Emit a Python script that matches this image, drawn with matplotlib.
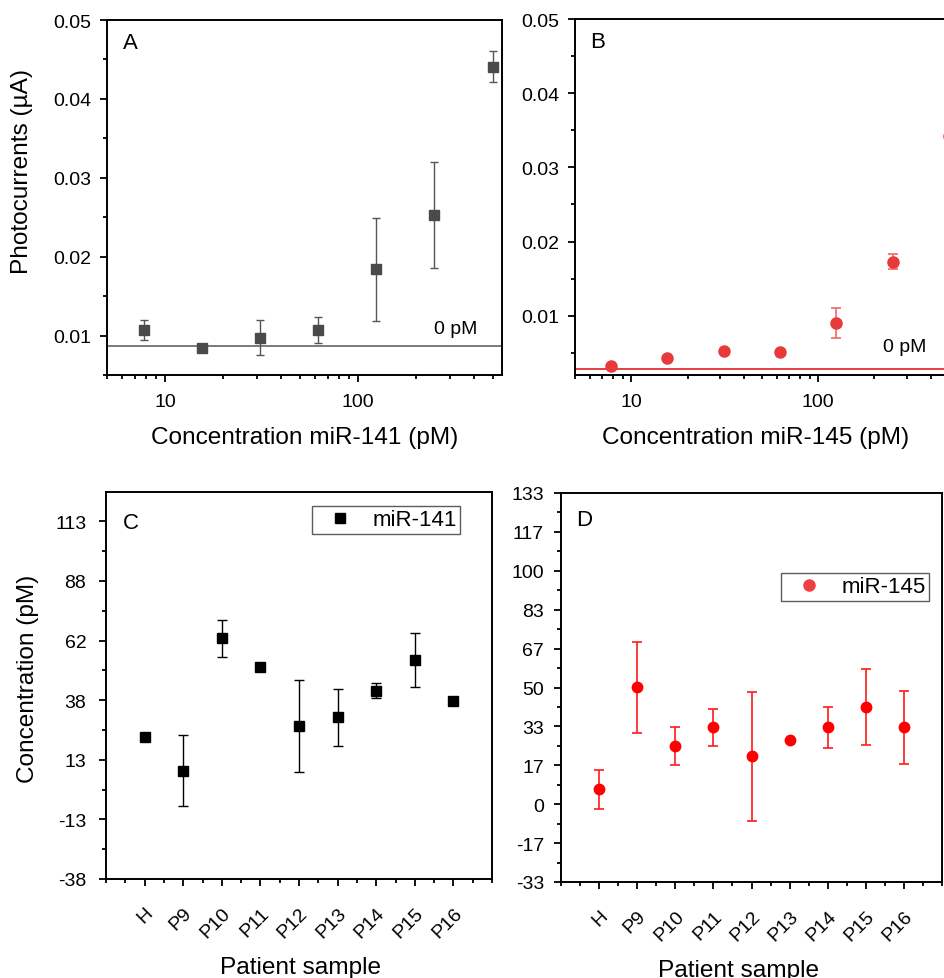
import numpy as np
import matplotlib
matplotlib.use("Agg")
import matplotlib.pyplot as plt
from matplotlib.ticker import FixedLocator, FixedFormatter, MultipleLocator, NullFormatter, LogLocator

plt.rcParams['font.family'] = ['Liberation Sans', 'DejaVu Sans']

# ---- calibration curves (A: miR-141, B: miR-145) ----
conc = [7.8125, 15.625, 31.25, 62.5, 125, 250, 500]
cur_141 = [0.0107, 0.00848, 0.00975, 0.0107, 0.0184, 0.0253, 0.0441]
err_141 = [0.0013, 0.0002, 0.00225, 0.0016, 0.0065, 0.0067, 0.002]
blank_141 = 0.00873

cur_145 = [0.00315, 0.0043, 0.0052, 0.0051, 0.0090, 0.0173, 0.0342]
err_145 = [0.0002, 0.0002, 0.0002, 0.0002, 0.0020, 0.0010, 0.0075]
blank_145 = 0.00284

# ---- patient samples (C: miR-141, D: miR-145) ----
samples = ["H", "P9", "P10", "P11", "P12", "P13", "P14", "P15", "P16"]
pat_141 = [22.3, 8.0, 63.8, 51.6, 26.8, 30.5, 41.8, 54.7, 37.3]
pat_141_err = [0, 14.9, 7.9, 0, 19.35, 12.0, 3.0, 11.3, 0]
pat_145 = [6.3, 50.1, 24.8, 32.9, 20.5, 27.5, 32.9, 41.7, 32.9]
pat_145_err = [8.5, 19.5, 8.2, 7.8, 27.6, 0, 8.7, 16.4, 15.6]

c_ticks = list(np.linspace(-37.75, 113.25, 7))
c_ticklabels = ["-38", "-13", "13", "38", "62", "88", "113"]
d_ticks = list(np.linspace(-100 / 3, 400 / 3, 11))
d_ticklabels = ["-33", "-17", "0", "17", "33", "50", "67", "83", "100", "117", "133"]

W, H = 944, 979
fig = plt.figure(figsize=(W / 100, H / 100), dpi=100)


def px_axes(left, top, right, bottom):
    return fig.add_axes([left / W, (H - bottom) / H, (right - left) / W, (bottom - top) / H])


TICK_FS = 14
LABEL_FS = 17.6
LEG_FS = 16


def style(ax, ypad=6, xpad=8):
    for s in ax.spines.values():
        s.set_linewidth(1.4)
    ax.tick_params(which='major', direction='out', length=5.2, width=1.3, labelsize=TICK_FS,
                   top=False, right=False)
    ax.tick_params(which='minor', direction='out', length=3.2, width=1.3, top=False, right=False)
    ax.tick_params(axis='y', which='major', pad=ypad)
    ax.tick_params(axis='x', which='major', pad=xpad)


def legend_box(ax, right_px, top_px, left, top, w, h):
    leg = ax.legend(loc='upper right',
                    bbox_to_anchor=((right_px - left) / w, 1 - (top_px - top) / h),
                    fontsize=LEG_FS, frameon=True, fancybox=False, edgecolor='#333333',
                    handlelength=2.2, handletextpad=0.35, borderpad=0.15, borderaxespad=0)
    leg.get_frame().set_linewidth(1.0)
    return leg


# Panel A
axA = px_axes(107, 21, 502, 376)
axA.set_xscale('log')
axA.set_xlim(5, 560)
axA.set_ylim(0.005, 0.05)
axA.axhline(blank_141, color='#707070', lw=1.3)
axA.errorbar(conc, cur_141, yerr=err_141, fmt='s', color='#4a4a4a', ms=7.5,
             ecolor='#555555', elinewidth=1.0, capsize=2.9, capthick=1.0)
axA.yaxis.set_major_locator(MultipleLocator(0.01))
axA.yaxis.set_minor_locator(MultipleLocator(0.005))
axA.xaxis.set_major_locator(FixedLocator([10, 100]))
axA.xaxis.set_major_formatter(FixedFormatter(["10", "100"]))
axA.xaxis.set_minor_locator(LogLocator(base=10, subs=np.arange(2, 10)))
axA.xaxis.set_minor_formatter(NullFormatter())
axA.yaxis.set_major_formatter(plt.FuncFormatter(lambda v, p: f"{v:.2f}"))
style(axA)
axA.text(0.04, 0.965, "A", transform=axA.transAxes, fontsize=16, va='top', ha='left')
axA.text(0.827, 0.13, "0 pM", transform=axA.transAxes, fontsize=14, va='center', ha='left')
axA.set_xlabel("Concentration miR-141 (pM)", fontsize=LABEL_FS)
axA.xaxis.set_label_coords(0.5, -0.144)
axA.set_ylabel("Photocurrents (\u00b5A)", fontsize=LABEL_FS)
axA.yaxis.set_label_coords(-0.187, 0.575)

# Panel B
axB = px_axes(575, 20, 958, 376)
axB.set_xscale('log')
axB.set_xlim(5, 560)
axB.set_ylim(0.002, 0.05)
axB.axhline(blank_145, color='#e53030', lw=1.3)
axB.errorbar(conc, cur_145, yerr=err_145, fmt='o', color='#e83a3a', ms=8,
             ecolor='#f06a6a', elinewidth=1.2, capsize=3.6, capthick=1.2)
axB.yaxis.set_major_locator(MultipleLocator(0.01))
axB.yaxis.set_minor_locator(MultipleLocator(0.005))
axB.xaxis.set_major_locator(FixedLocator([10, 100]))
axB.xaxis.set_major_formatter(FixedFormatter(["10", "100"]))
axB.xaxis.set_minor_locator(LogLocator(base=10, subs=np.arange(2, 10)))
axB.xaxis.set_minor_formatter(NullFormatter())
axB.yaxis.set_major_formatter(plt.FuncFormatter(lambda v, p: f"{v:.2f}"))
style(axB)
axB.text(0.04, 0.965, "B", transform=axB.transAxes, fontsize=16, va='top', ha='left')
axB.text(0.803, 0.08, "0 pM", transform=axB.transAxes, fontsize=14, va='center', ha='left')
axB.set_xlabel("Concentration miR-145 (pM)", fontsize=LABEL_FS)
axB.xaxis.set_label_coords((756 - 575) / (958 - 575), -0.143)

# Panel C
xpos = np.arange(1, len(samples) + 1)
axC = px_axes(106, 493, 492, 880)
axC.set_xlim(0, 10)
axC.set_ylim(-37.75, 125.6)
axC.errorbar(xpos, pat_141, yerr=pat_141_err, fmt='s', color='black', ms=7.3,
             ecolor='black', elinewidth=1.0, capsize=3.6, capthick=1.0)
axC.plot([], [], 's', color='black', ms=7.3, label="miR-141")
axC.yaxis.set_major_locator(FixedLocator(c_ticks))
axC.yaxis.set_major_formatter(FixedFormatter(c_ticklabels))
axC.yaxis.set_minor_locator(FixedLocator(list(np.array(c_ticks) + 12.583)))
style(axC, ypad=9, xpad=13)
axC.set_xticks(xpos)
axC.set_xticklabels(samples, rotation=45, ha='right', rotation_mode='anchor')
axC.xaxis.set_minor_locator(FixedLocator(list(np.arange(0, 10.01, 0.5))))
axC.text(0.044, 0.92, "C", transform=axC.transAxes, fontsize=16, va='center', ha='left')
legend_box(axC, 460, 507, 106, 493, 386, 387)
axC.set_xlabel("Patient sample", fontsize=LABEL_FS)
axC.xaxis.set_label_coords(0.505, -0.199)
axC.set_ylabel("Concentration (pM)", fontsize=LABEL_FS)
axC.yaxis.set_label_coords(-0.174, 0.52)

# Panel D
axD = px_axes(561, 494, 942, 883)
axD.set_xlim(0, 10)
axD.set_ylim(-100 / 3, 400 / 3)
axD.errorbar(xpos, pat_145, yerr=pat_145_err, fmt='o', color='#ff0000', ms=7.5,
             ecolor='#ff1a1a', elinewidth=1.2, capsize=3.6, capthick=1.2)
axD.plot([], [], 'o', color='#ee4040', ms=8, label="miR-145")
axD.yaxis.set_major_locator(FixedLocator(d_ticks))
axD.yaxis.set_major_formatter(FixedFormatter(d_ticklabels))
axD.yaxis.set_minor_locator(FixedLocator(list(np.array(d_ticks) + 25 / 3)))
style(axD, ypad=7, xpad=13)
axD.set_xticks(xpos)
axD.set_xticklabels(samples, rotation=45, ha='right', rotation_mode='anchor')
axD.xaxis.set_minor_locator(FixedLocator(list(np.arange(0, 10.01, 0.5))))
axD.text(0.04, 0.933, "D", transform=axD.transAxes, fontsize=16, va='center', ha='left')
legend_box(axD, 929, 574, 561, 494, 381, 389)
axD.set_xlabel("Patient sample", fontsize=LABEL_FS)
axD.xaxis.set_label_coords((739 - 561) / 381, -0.198)

fig.savefig("out.png", dpi=100)
